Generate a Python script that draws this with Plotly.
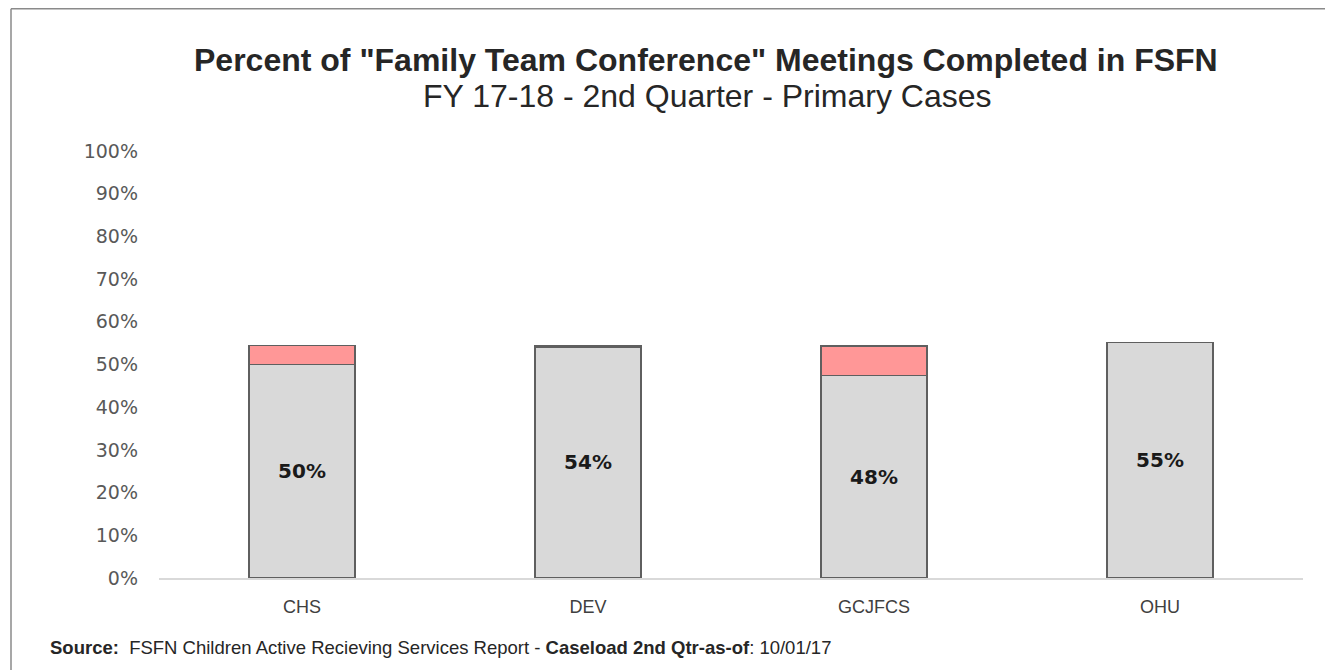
import plotly.graph_objects as go

categories = ["CHS", "DEV", "GCJFCS", "OHU"]
completed = [50.0, 54.1, 47.4, 55.2]
remaining = [4.4, 0.25, 6.9, 0.0]
labels = ["50%", "54%", "48%", "55%"]
y_ticks = list(range(0, 101, 10))
y_tick_text = [f"{v}%" for v in y_ticks]

# page body has an 8px margin; work in page coordinates and shift
OFF = 8
W, H = 1333 - OFF, 670 - OFF
L, R, T, B = 159 - OFF, 30, 151 - OFF, 92
pw, ph = W - L - R, H - T - B

def px(x):
    return (x - OFF - L) / pw

def py(y):
    return (H - B - (y - OFF)) / ph

fig = go.Figure()
fig.add_bar(
    x=categories, y=completed, name="Completed",
    marker=dict(color="#D9D9D9", line=dict(color="#5F5F5F", width=1.5)),
    text=labels, textposition="inside", insidetextanchor="middle",
    textfont=dict(family="DejaVu Sans", size=20, color="#1a1a1a", weight="bold"),
    width=0.37, hoverinfo="skip",
)
fig.add_bar(
    x=categories, y=remaining, name="Not completed",
    marker=dict(color="#FF9797", line=dict(color="#5F5F5F", width=1.5)),
    width=0.37, hoverinfo="skip", textposition="none",
)

frame = dict(color="#8a8a8a", width=1.5)
fig.update_layout(
    barmode="stack",
    width=W, height=H,
    margin=dict(l=L, r=R, t=T, b=B),
    paper_bgcolor="white", plot_bgcolor="white",
    showlegend=False,
    font=dict(family="Liberation Sans", color="#595959"),
    xaxis=dict(
        showline=True, linecolor="#D9D9D9", linewidth=1.5,
        showgrid=False, ticks="", tickfont=dict(family="Liberation Sans", size=18, color="#404040"),
        ticklabelstandoff=12,
    ),
    yaxis=dict(
        range=[0, 100], tickvals=y_ticks, ticktext=y_tick_text,
        showgrid=False, showline=False, zeroline=False, ticks="",
        tickfont=dict(family="DejaVu Sans", size=19, color="#595959"),
        ticklabelstandoff=20,
    ),
    shapes=[
        dict(type="line", xref="paper", yref="paper",
             x0=px(11), x1=px(1333), y0=py(8.8), y1=py(8.8), line=frame, layer="below"),
        dict(type="line", xref="paper", yref="paper",
             x0=px(11), x1=px(11), y0=py(8.8), y1=py(670), line=frame, layer="below"),
    ],
    annotations=[
        dict(text="<b>Percent of \"Family Team Conference\" Meetings Completed in FSFN</b>",
             xref="paper", yref="paper", x=px(706), y=py(60), xanchor="center", yanchor="middle",
             showarrow=False, font=dict(family="Liberation Sans", size=32, color="#262626")),
        dict(text="FY 17-18 - 2nd Quarter - Primary Cases",
             xref="paper", yref="paper", x=px(707), y=py(96), xanchor="center", yanchor="middle",
             showarrow=False, font=dict(family="Liberation Sans", size=32, color="#262626")),
        dict(text="<b>Source:</b>  FSFN Children Active Recieving Services Report - <b>Caseload 2nd Qtr-as-of</b>: 10/01/17",
             xref="paper", yref="paper", x=px(48), y=py(647), xanchor="left", yanchor="middle",
             showarrow=False, font=dict(family="Liberation Sans", size=18.5, color="#262626")),
    ],
)

fig.write_html("out.html")
